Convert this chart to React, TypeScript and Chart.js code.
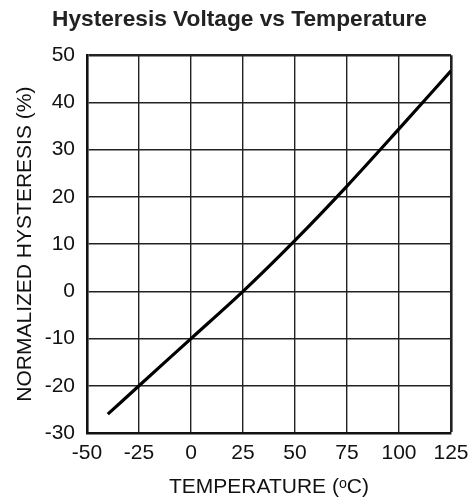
import React, { useEffect, useRef } from "react";
import { Chart, registerables } from "chart.js";

Chart.register(...registerables);

const temperatures = [-40, -25, 0, 25, 50, 75, 100, 125];
const hysteresis = [-26.0, -20.0, -10.0, 0.0, 10.8, 22.3, 34.4, 46.7];

const titleText = "Hysteresis Voltage vs Temperature";
const xTitle = "TEMPERATURE (ᵒC)";
const yTitle = "NORMALIZED HYSTERESIS (%)";

const xMin = -50, xMax = 125, xStep = 25;
const yMin = -30, yMax = 50, yStep = 10;

const FONT = "'Liberation Sans', Arial, Helvetica, sans-serif";

export default function App() {
  const ref = useRef<HTMLCanvasElement | null>(null);

  useEffect(() => {
    if (!ref.current) return;
    const chart = new Chart(ref.current, {
      type: "line",
      data: {
        datasets: [
          {
            data: temperatures.map((t, i) => ({ x: t, y: hysteresis[i] })),
            borderColor: "#000",
            borderWidth: 3.2,
            pointRadius: 0,
            fill: false,
            cubicInterpolationMode: "monotone",
          },
        ],
      },
      options: {
        animation: false,
        responsive: true,
        maintainAspectRatio: false,
        layout: { padding: { left: 28, right: 22, top: 0, bottom: 0 } },
        plugins: {
          legend: { display: false },
          tooltip: { enabled: false },
          title: {
            display: true,
            text: titleText,
            color: "#222",
            font: { family: FONT, size: 22.7, weight: "bold" },
            padding: { top: 6, bottom: 22 },
          },
        },
        scales: {
          x: {
            type: "linear",
            min: xMin,
            max: xMax,
            afterFit: (s: any) => { s.height = 68; s.paddingRight = 0; },
            ticks: {
              stepSize: xStep,
              color: "#111",
              font: { family: FONT, size: 21 },
              padding: 8,
              maxRotation: 0,
            },
            grid: {
              drawTicks: false,
              color: "#222",
              lineWidth: (c: any) => (c.tick && c.tick.value === xMax ? 2.6 : 1.4),
            },
            border: { display: true, color: "#111", width: 2.6 },
            title: {
              display: true,
              text: xTitle,
              color: "#111",
              font: { family: FONT, size: 21 },
              padding: { top: 8, bottom: 1 },
            },
          },
          y: {
            type: "linear",
            min: yMin,
            max: yMax,
            afterFit: (s: any) => { s.width = 59; },
            ticks: {
              stepSize: yStep,
              color: "#111",
              font: { family: FONT, size: 21 },
              padding: 12,
            },
            grid: {
              drawTicks: false,
              color: "#222",
              lineWidth: (c: any) => (c.tick && c.tick.value === yMax ? 2.6 : 1.4),
            },
            border: { display: true, color: "#111", width: 2.6 },
            title: {
              display: true,
              text: yTitle,
              color: "#111",
              font: { family: FONT, size: 21 },
              padding: { top: -15.6, bottom: 0 },
            },
          },
        },
      },
    });
    return () => chart.destroy();
  }, []);

  return (
    <div style={{ position: "absolute", left: 0, top: 0, width: 473, height: 501, background: "#fff" }}>
      <canvas ref={ref} />
    </div>
  );
}
